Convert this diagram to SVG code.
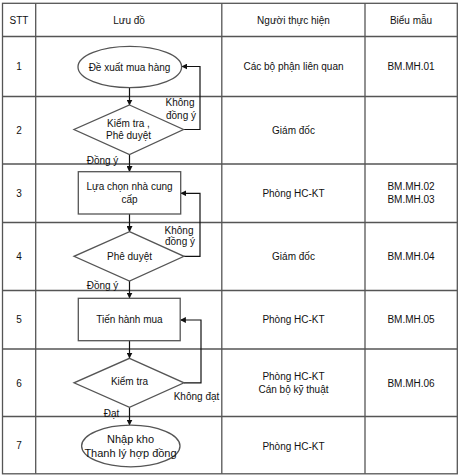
<svg xmlns="http://www.w3.org/2000/svg" width="459" height="476" viewBox="0 0 459 476">
<defs>
<style>
.t{font-family:"Liberation Sans",Arial,sans-serif;font-size:10px;fill:#111;text-anchor:middle;dominant-baseline:central}
.big{font-size:11px}
.grid{stroke:#555;stroke-width:1.3;fill:none}
.shape{stroke:#555;stroke-width:1.3;fill:#fff}
.conn{stroke:#111;stroke-width:1.2;fill:none}
</style>
<marker id="arr" viewBox="0 0 10 10" refX="9" refY="5" markerWidth="6" markerHeight="6" orient="auto-start-reverse" markerUnits="userSpaceOnUse">
<path d="M0,0 L10,5 L0,10 Z" fill="#111"/>
</marker>
</defs>
<rect width="459" height="476" fill="#fff"/>
<g id="table">
<rect class="grid" x="2.5" y="3.3" width="454.8" height="470.5"/>
<line class="grid" x1="35.7" y1="3.3" x2="35.7" y2="473.8"/>
<line class="grid" x1="221.8" y1="3.3" x2="221.8" y2="473.8"/>
<line class="grid" x1="365" y1="3.3" x2="365" y2="473.8"/>
<line class="grid" x1="2.5" y1="36.5" x2="457.3" y2="36.5"/>
<line class="grid" x1="2.5" y1="96.5" x2="457.3" y2="96.5"/>
<line class="grid" x1="2.5" y1="164" x2="457.3" y2="164"/>
<line class="grid" x1="2.5" y1="222.5" x2="457.3" y2="222.5"/>
<line class="grid" x1="2.5" y1="290.5" x2="457.3" y2="290.5"/>
<line class="grid" x1="2.5" y1="349" x2="457.3" y2="349"/>
<line class="grid" x1="2.5" y1="416.5" x2="457.3" y2="416.5"/>
<text class="t" x="19" y="20">STT</text>
<text class="t" x="129" y="20">Lưu đồ</text>
<text class="t" x="293.5" y="20">Người thực hiện</text>
<text class="t" x="411" y="20">Biểu mẫu</text>
<text class="t" x="19" y="66.5">1</text>
<text class="t" x="19" y="130">2</text>
<text class="t" x="19" y="193">3</text>
<text class="t" x="19" y="256.5">4</text>
<text class="t" x="19" y="319.5">5</text>
<text class="t" x="19" y="383">6</text>
<text class="t" x="19" y="445.5">7</text>
<text class="t" x="293.5" y="66.5">Các bộ phận liên quan</text>
<text class="t" x="293.5" y="130">Giám đốc</text>
<text class="t" x="293.5" y="193">Phòng HC-KT</text>
<text class="t" x="293.5" y="256">Giám đốc</text>
<text class="t" x="293.5" y="319.5">Phòng HC-KT</text>
<text class="t" x="293.5" y="376.5">Phòng HC-KT</text>
<text class="t" x="293.5" y="389.5">Cán bộ kỹ thuật</text>
<text class="t" x="293.5" y="446">Phòng HC-KT</text>
<text class="t" x="411" y="66.5">BM.MH.01</text>
<text class="t" x="411" y="186.5">BM.MH.02</text>
<text class="t" x="411" y="199">BM.MH.03</text>
<text class="t" x="411" y="256">BM.MH.04</text>
<text class="t" x="411" y="319.5">BM.MH.05</text>
<text class="t" x="411" y="383">BM.MH.06</text>
</g>
<g id="connectors">
<line class="conn" x1="129.5" y1="87.5" x2="129.5" y2="105" marker-end="url(#arr)"/>
<polyline class="conn" points="183.5,129.5 200,129.5 200,66.5 182,66.5" marker-end="url(#arr)"/>
<line class="conn" x1="129.5" y1="154.5" x2="129.5" y2="171.5" marker-end="url(#arr)"/>
<line class="conn" x1="129.5" y1="214" x2="129.5" y2="231.5" marker-end="url(#arr)"/>
<polyline class="conn" points="184,256.3 200,256.3 200,193.3 181,193.3" marker-end="url(#arr)"/>
<line class="conn" x1="129.5" y1="281" x2="129.5" y2="298" marker-end="url(#arr)"/>
<line class="conn" x1="129.5" y1="340.7" x2="129.5" y2="358" marker-end="url(#arr)"/>
<polyline class="conn" points="184,382.8 201,382.8 201,320 180.5,320" marker-end="url(#arr)"/>
<line class="conn" x1="129.5" y1="407.3" x2="129.5" y2="425" marker-end="url(#arr)"/>
<text class="t" x="180" y="102.5">Không</text>
<text class="t" x="181" y="115">đồng ý</text>
<text class="t" x="102.5" y="160">Đồng ý</text>
<text class="t" x="179" y="230">Không</text>
<text class="t" x="180" y="241">đồng ý</text>
<text class="t" x="102.5" y="285">Đồng ý</text>
<text class="t" x="196.5" y="396.5">Không đạt</text>
<text class="t" x="111.5" y="413">Đạt</text>
</g>
<g id="n1">
<ellipse class="shape" cx="129.8" cy="67" rx="51.8" ry="20.6"/>
<text class="t" x="129.5" y="67">Đề xuất mua hàng</text>
</g>
<g id="n2">
<polygon class="shape" points="129.5,105 183.5,129.5 129.5,154.5 74,129.5"/>
<text class="t" x="128.5" y="123">Kiểm tra ,</text>
<text class="t" x="128.5" y="135.5">Phê duyệt</text>
</g>
<g id="n3">
<rect class="shape" x="78.3" y="171.7" width="102.4" height="42.3"/>
<text class="t" x="129.5" y="186.5">Lựa chọn nhà cung</text>
<text class="t" x="129.5" y="199">cấp</text>
</g>
<g id="n4">
<polygon class="shape" points="129.5,231.7 184,256.3 129.5,281 74,256.3"/>
<text class="t" x="129.5" y="256.5">Phê duyệt</text>
</g>
<g id="n5">
<rect class="shape" x="78.3" y="298.3" width="101.9" height="42.4"/>
<text class="t" x="129.5" y="319">Tiến hành mua</text>
</g>
<g id="n6">
<polygon class="shape" points="129.5,358.3 184,382.8 129.5,407.3 74,382.8"/>
<text class="t" x="129.5" y="381.5">Kiểm tra</text>
</g>
<g id="n7">
<ellipse class="shape" cx="130.8" cy="446" rx="49.2" ry="20.8"/>
<text class="t big" x="130.5" y="438.5">Nhập kho</text>
<text class="t big" x="130.5" y="452.5">Thanh lý hợp đồng</text>
</g>
</svg>
